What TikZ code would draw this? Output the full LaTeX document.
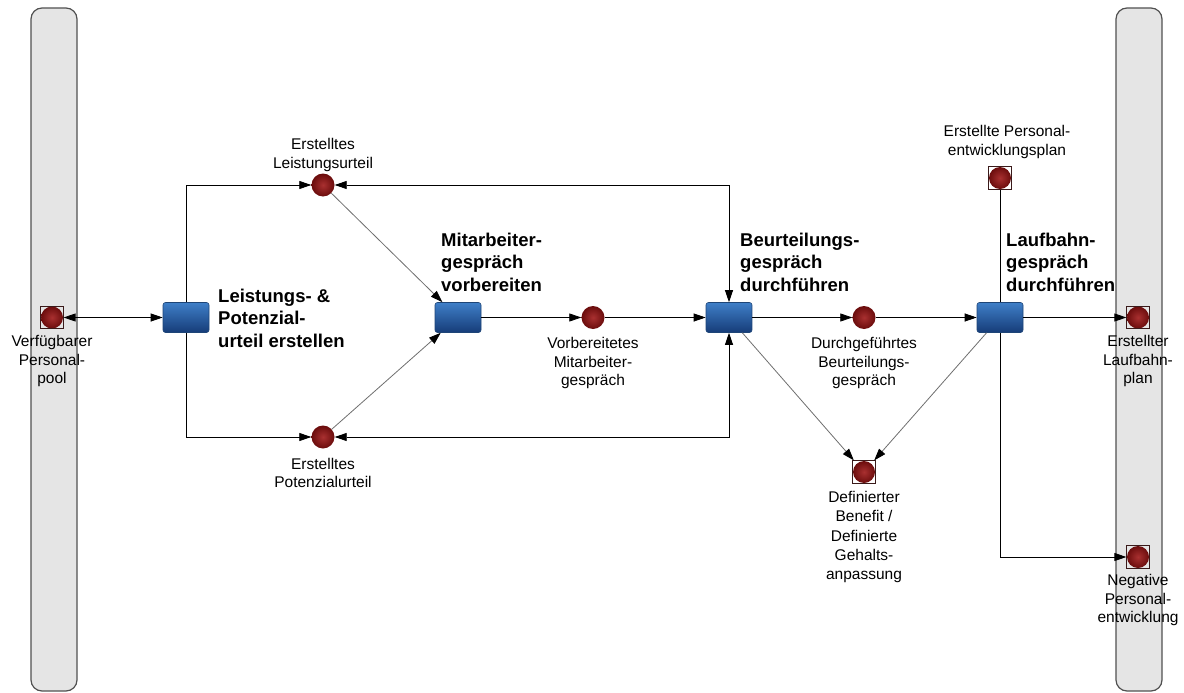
\documentclass[tikz,border=0pt]{standalone}
\usepackage{fontspec}
\setmainfont{Liberation Sans}
\usetikzlibrary{arrows.meta,calc}

\definecolor{barfill}{HTML}{E5E5E5}
\definecolor{barline}{HTML}{505050}
\definecolor{tasktop}{HTML}{3F7FC8}
\definecolor{taskbot}{HTML}{163C78}
\definecolor{taskline}{HTML}{1E4577}
\definecolor{placein}{HTML}{A93030}
\definecolor{placeout}{HTML}{6A0C0C}
\definecolor{boxline}{HTML}{3A1A1A}
\definecolor{diag}{HTML}{6E6E6E}

\tikzset{
  lane/.style={draw=barline, line width=1.2pt, fill=barfill, rounded corners=11pt},
  task/.style={rectangle, rounded corners=2.5pt, minimum width=46pt, minimum height=30pt,
    inner sep=0pt, top color=tasktop, bottom color=taskbot, draw=taskline, line width=0.6pt},
  place/.style={circle, minimum size=23pt, inner sep=0pt,
    inner color=placein, outer color=placeout},
  boxedplace/.style={rectangle, minimum size=22.5pt, inner sep=0pt, draw=boxline, line width=0.7pt,
    path picture={\shade[inner color=placein, outer color=placeout]
      (path picture bounding box.center) circle (11pt);}},
  lab/.style={align=center, inner sep=0pt, font=\fontsize{15.5}{18.3}\selectfont},
  tasklab/.style={align=left, anchor=west, inner sep=0pt,
    font=\fontsize{18.5}{22.5}\selectfont\bfseries},
  tip/.tip={Triangle[length=12pt, width=8pt]},
  blacktip/.tip={Triangle[length=12pt, width=8pt, color=black]},
  flow/.style={draw=black, line width=0.8pt, -tip},
  flowboth/.style={draw=black, line width=0.8pt, tip-tip},
  plain/.style={draw=black, line width=0.8pt},
  slant/.style={draw=diag, line width=0.8pt, -blacktip},
}

\begin{document}
\begin{tikzpicture}[x=1pt, y=-1pt]
\useasboundingbox (0,0) rectangle (1184,693);

% side lanes
\path[lane] (31,8) rectangle (77,691);
\path[lane] (1116,8) rectangle (1162,691);

% tasks
\node[task] (T1) at (186,317.5) {};
\node[task] (T2) at (458,317.5) {};
\node[task] (T3) at (729,317.5) {};
\node[task] (T4) at (1000,317.5) {};

% places
\node[boxedplace] (V)  at (52,317.5) {};
\node[place]      (LU) at (323,185) {};
\node[place]      (PU) at (323,437) {};
\node[place]      (VM) at (593,317.5) {};
\node[place]      (DB) at (864,317.5) {};
\node[boxedplace] (DF) at (864,472) {};
\node[boxedplace] (PE) at (1000,178) {};
\node[boxedplace] (EL) at (1138,317.5) {};
\node[boxedplace] (NP) at (1138,557) {};

% task labels
\node[tasklab] (T1l) at (218,318) {Leistungs- \&\\Potenzial-\\urteil erstellen};
\node[tasklab] (T2l) at (441,262) {Mitarbeiter-\\gespräch\\vorbereiten};
\node[tasklab] (T3l) at (740,262) {Beurteilungs-\\gespräch\\durchführen};
\node[tasklab] (T4l) at (1006,262) {Laufbahn-\\gespräch\\durchführen};

% place labels
\node[lab] (Vl)  at (52,361)  {Verfügbarer\\Personal-\\pool};
\node[lab] (LUl) at (323,155) {Erstelltes\\Leistungsurteil};
\node[lab] (PUl) at (323,473) {Erstelltes\\Potenzialurteil};
\node[lab] (VMl) at (593,363) {Vorbereitetes\\Mitarbeiter-\\gespräch};
\node[lab] (DBl) at (864,363) {Durchgeführtes\\Beurteilungs-\\gespräch};
\node[lab, font=\fontsize{15.5}{19.2}\selectfont] (DFl) at (864,537) {Definierter\\Benefit /\\Definierte\\Gehalts-\\anpassung};
\node[lab] (PEl) at (1007,142) {Erstellte Personal-\\entwicklungsplan};
\node[lab] (ELl) at (1138,361) {Erstellter\\Laufbahn-\\plan};
\node[lab] (NPl) at (1138,600) {Negative\\Personal-\\entwicklung};

% connectors
\draw[flowboth] (V) -- (T1);
\draw[flow] (T1.north) |- (LU);
\draw[flow] (T1.south) |- (PU);
\draw[flowboth] (LU) -| (T3);
\draw[flowboth] (PU) -| (T3);
\draw[slant] (LU) -- (T2);
\draw[slant] (PU) -- (T2);
\draw[flow] (T2) -- (VM);
\draw[flow] (VM) -- (T3);
\draw[flow] (T3) -- (DB);
\draw[flow] (DB) -- (T4);
\draw[flow] (T4) -- (EL);
\draw[slant] (T3) -- (DF);
\draw[slant] (T4) -- (DF);
\draw[plain] (PE) -- (T4);
\draw[flow] (T4) |- (NP);
\end{tikzpicture}
\end{document}
